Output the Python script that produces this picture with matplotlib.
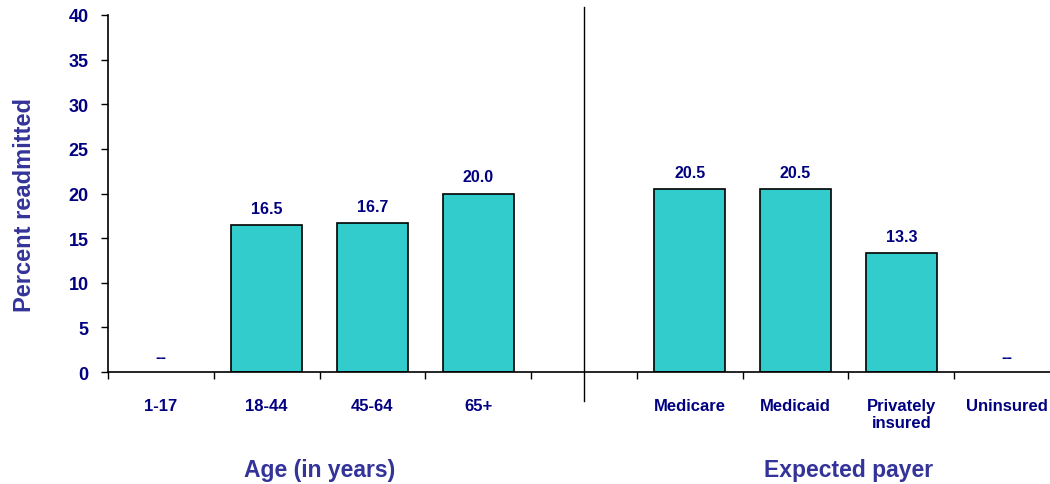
import matplotlib.pyplot as plt
import numpy as np

plt.rcParams['font.family'] = ['Liberation Sans', 'DejaVu Sans']
plt.rcParams['font.weight'] = 'bold'

# data
age_groups = ["1-17", "18-44", "45-64", "65+"]
age_values = [None, 16.5, 16.7, 20.0]
payers = ["Medicare", "Medicaid", "Privately\ninsured", "Uninsured"]
payer_values = [20.5, 20.5, 13.3, None]

navy = "#000080"
title_col = "#333399"
bar_col = "#33CCCC"

labels = age_groups + [""] + payers
values = age_values + [None] + payer_values
pos = np.arange(len(labels))

fig = plt.figure(figsize=(10.5, 4.85), dpi=100)
ax = fig.add_axes([108 / 1050, 1 - 373 / 485, 952 / 1050, 357 / 485])

for x, v, lab in zip(pos, values, labels):
    if lab == "":
        continue
    if v is None:
        ax.annotate("--", (x, 0), xytext=(0, 11), textcoords="offset points",
                    ha="center", va="center", color=navy, fontsize=12, fontweight="bold")
    else:
        ax.bar(x, v, width=0.67, color=bar_col, edgecolor="black", linewidth=1.2, zorder=2)
        ax.annotate(f"{v:.1f}", (x, v), xytext=(0, 12), textcoords="offset points",
                    ha="center", va="center", color=navy, fontsize=11.5, fontweight="bold")

ax.set_xlim(-0.5, len(labels) - 0.5)
ax.set_ylim(0, 40)
ax.set_yticks(range(0, 41, 5))
ax.tick_params(axis="y", labelsize=13, labelcolor=navy, length=5, width=1, pad=9)

ax.set_xticks(pos)
ax.set_xticklabels(labels, color=navy, fontsize=12, fontweight="bold", va="top",
                   linespacing=1.1)
ax.tick_params(axis="x", length=0, pad=19)
ax.set_xticks(np.arange(-0.5, len(labels)), minor=True)
ax.tick_params(axis="x", which="minor", length=5, width=1)

for s in ["top", "right"]:
    ax.spines[s].set_visible(False)
for s in ["left", "bottom"]:
    ax.spines[s].set_linewidth(1.2)

# divider between the two groups
ax.plot([4, 4], [40.9, -3.25], color="black", linewidth=1, clip_on=False)

ax.set_ylabel("Percent readmitted", color=title_col, fontsize=17, fontweight="bold")
ax.yaxis.set_label_coords(-72 / 952, 0.47)

fig.text(319.6 / 1050, 1 - 471 / 485, "Age (in years)", ha="center", va="center",
         color=title_col, fontsize=16.5, fontweight="bold")
fig.text(848.6 / 1050, 1 - 471 / 485, "Expected payer", ha="center", va="center",
         color=title_col, fontsize=16.5, fontweight="bold")

fig.savefig("out.png", dpi=100)
